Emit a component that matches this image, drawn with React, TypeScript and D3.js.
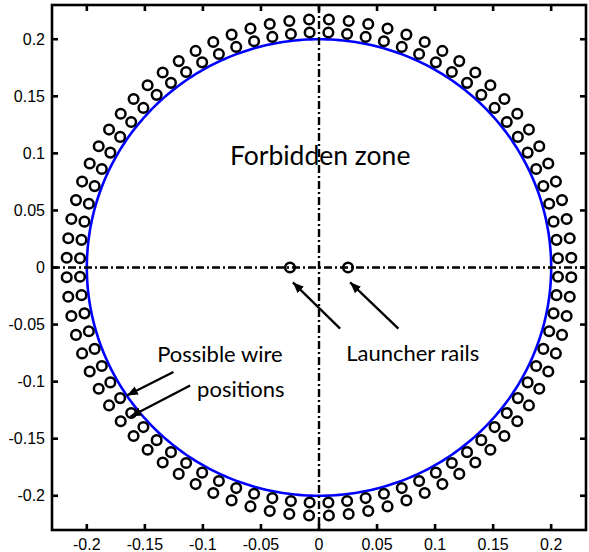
import React, { useEffect, useRef } from 'react';
import * as d3 from 'd3';

// axis ticks (MATLAB style labels)
const xTicks = [-0.2, -0.15, -0.1, -0.05, 0, 0.05, 0.1, 0.15, 0.2];
const xTickLabels = ['-0.2', '-0.15', '-0.1', '-0.05', '0', '0.05', '0.1', '0.15', '0.2'];
const yTicks = [-0.2, -0.15, -0.1, -0.05, 0, 0.05, 0.1, 0.15, 0.2];
const yTickLabels = ['-0.2', '-0.15', '-0.1', '-0.05', '0', '0.05', '0.1', '0.15', '0.2'];

// geometry
const zoneRadius = 0.2;          // forbidden zone (blue)
const wireCount = 80;            // wires per ring
const wireRings = [0.206, 0.2175];
const railX = [-0.025, 0.025];   // launcher rails on y = 0

const App: React.FC = () => {
  const ref = useRef<SVGSVGElement | null>(null);

  useEffect(() => {
    const svgWidth = 589;
    const svgHeight = 552;
    const margin = { top: 5, right: 3, bottom: 22, left: 52 };
    const width = svgWidth - margin.left - margin.right;
    const height = svgHeight - margin.top - margin.bottom;

    const x = d3.scaleLinear().domain([-0.23, 0.23]).range([0, width]);
    const y = d3.scaleLinear().domain([-0.23, 0.23]).range([height, 0]);

    const root = d3.select(ref.current);
    root.selectAll('*').remove();

    const defs = root.append('defs');
    defs
      .append('marker')
      .attr('id', 'head')
      .attr('markerUnits', 'userSpaceOnUse')
      .attr('markerWidth', 12)
      .attr('markerHeight', 10)
      .attr('refX', 11)
      .attr('refY', 4.5)
      .attr('orient', 'auto')
      .append('path')
      .attr('d', 'M0,0 L11,4.5 L0,9 Z')
      .attr('fill', '#000');

    const svg = root.append('g').attr('transform', `translate(${margin.left},${margin.top})`);

    // forbidden zone circle
    const circ = d3.range(0, 361).map(a => [zoneRadius * Math.cos((a * Math.PI) / 180), zoneRadius * Math.sin((a * Math.PI) / 180)]);
    svg
      .append('path')
      .attr('d', d3.line<number[]>().x(d => x(d[0])).y(d => y(d[1]))(circ))
      .attr('fill', 'none')
      .attr('stroke', '#0000ff')
      .attr('stroke-width', 2.6);

    // dash-dot centre lines
    svg
      .append('line')
      .attr('x1', x(-0.23)).attr('x2', x(0.23))
      .attr('y1', y(0)).attr('y2', y(0))
      .attr('stroke', '#000').attr('stroke-width', 2.4)
      .attr('stroke-dasharray', '8,3,2,3');
    svg
      .append('line')
      .attr('x1', x(0)).attr('x2', x(0))
      .attr('y1', y(0.23)).attr('y2', y(-0.23))
      .attr('stroke', '#000').attr('stroke-width', 2.4)
      .attr('stroke-dasharray', '8,3,2,3');

    // possible wire positions
    const step = 360 / wireCount;
    const wires: [number, number][] = [];
    wireRings.forEach(r => {
      d3.range(wireCount).forEach(k => {
        const a = ((k + 0.5) * step * Math.PI) / 180;
        wires.push([r * Math.cos(a), r * Math.sin(a)]);
      });
    });
    railX.forEach(rx => wires.push([rx, 0]));

    svg
      .selectAll('circle.wire')
      .data(wires)
      .enter()
      .append('circle')
      .attr('class', 'wire')
      .attr('cx', d => x(d[0]))
      .attr('cy', d => y(d[1]))
      .attr('r', 4.8)
      .attr('fill', 'none')
      .attr('stroke', '#000')
      .attr('stroke-width', 2.5);

    // annotations
    const font = 'Lato, "Open Sans", sans-serif';
    const note = (t: string, tx: number, ty: number, size: number, anchor = 'start') =>
      svg
        .append('text')
        .attr('x', x(tx))
        .attr('y', y(ty))
        .attr('text-anchor', anchor)
        .attr('font-family', font)
        .attr('font-size', size)
        .attr('fill', '#000')
        .text(t);
    note('Forbidden zone', 0.001, 0.0901, 26.5, 'middle');
    note('Launcher rails', 0.0234, -0.0822, 22);
    note('Possible wire', -0.1394, -0.0831, 22);
    note('positions', -0.105, -0.1138, 22);

    const arrow = (x1: number, y1: number, x2: number, y2: number) =>
      svg
        .append('line')
        .attr('x1', x(x1)).attr('y1', y(y1))
        .attr('x2', x(x2)).attr('y2', y(y2))
        .attr('stroke', '#000')
        .attr('stroke-width', 2.3)
        .attr('marker-end', 'url(#head)');
    arrow(0.0182, -0.0535, -0.0225, -0.013);
    arrow(0.0684, -0.0535, 0.0268, -0.013);
    arrow(-0.1254, -0.0916, -0.1655, -0.1121);
    arrow(-0.111, -0.1033, -0.1623, -0.1306);

    // axes box with inward ticks
    const tickLen = 6;
    const axisFont = '"Liberation Sans", Arial, sans-serif';
    const ax = svg.append('g').attr('stroke', '#000').attr('stroke-width', 2.6);
    ax.append('rect').attr('width', width).attr('height', height).attr('fill', 'none');
    xTicks.forEach(t => {
      ax.append('line').attr('x1', x(t)).attr('x2', x(t)).attr('y1', height).attr('y2', height - tickLen);
      ax.append('line').attr('x1', x(t)).attr('x2', x(t)).attr('y1', 0).attr('y2', tickLen);
    });
    yTicks.forEach(t => {
      ax.append('line').attr('y1', y(t)).attr('y2', y(t)).attr('x1', 0).attr('x2', tickLen);
      ax.append('line').attr('y1', y(t)).attr('y2', y(t)).attr('x1', width).attr('x2', width - tickLen);
    });

    svg
      .selectAll('text.xt')
      .data(xTicks)
      .enter()
      .append('text')
      .attr('class', 'xt')
      .attr('x', d => x(d))
      .attr('y', height + 20)
      .attr('text-anchor', 'middle')
      .attr('font-family', axisFont)
      .attr('font-size', 16)
      .text((d, i) => xTickLabels[i]);

    svg
      .selectAll('text.yt')
      .data(yTicks)
      .enter()
      .append('text')
      .attr('class', 'yt')
      .attr('x', -7)
      .attr('y', d => y(d))
      .attr('dy', '0.35em')
      .attr('text-anchor', 'end')
      .attr('font-family', axisFont)
      .attr('font-size', 16)
      .text((d, i) => yTickLabels[i]);
  }, []);

  return (
    <svg
      ref={ref}
      width={589}
      height={552}
      style={{ position: 'absolute', left: 0, top: 0, background: '#fff' }}
    />
  );
};

export default App;
